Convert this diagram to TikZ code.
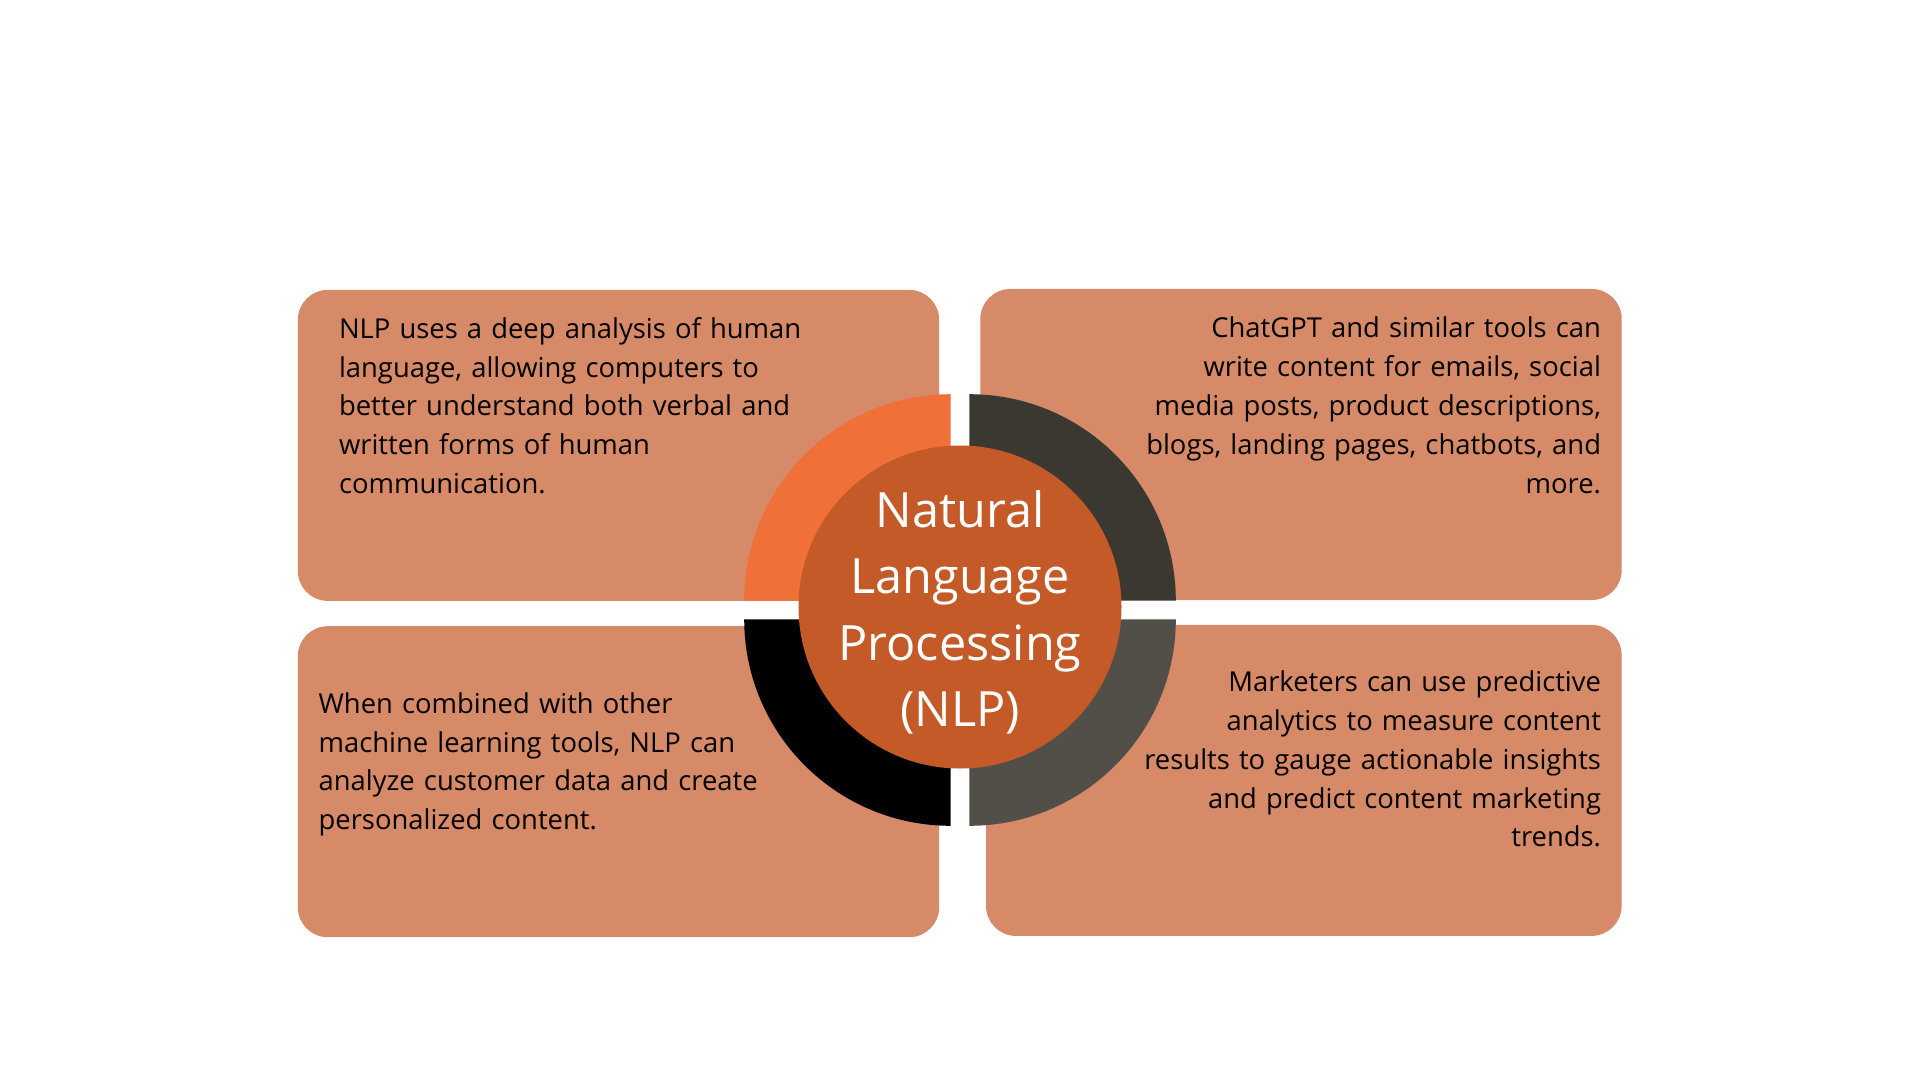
\documentclass[tikz,border=0pt]{standalone}
\usepackage{fontspec}
\setmainfont{Open Sans}
\usepackage{tikz}
\usetikzlibrary{positioning}

\definecolor{panelfill}{HTML}{D68A67}
\definecolor{hubfill}{HTML}{C35A27}
\definecolor{quadorange}{HTML}{F0703A}
\definecolor{quaddark}{HTML}{3B3832}
\definecolor{quadgrey}{HTML}{524F48}

\begin{document}
\begin{tikzpicture}[x=0.5pt,y=-0.5pt,
    panel/.style={rectangle,rounded corners=15pt,fill=panelfill,
      minimum width=320.7pt,minimum height=155.5pt,inner sep=0pt},
    blurb/.style={font=\fontsize{13.7pt}{19.4pt}\selectfont,text width=245pt,inner sep=0pt},
    hub/.style={circle,fill=hubfill,minimum size=161.5pt,inner sep=0pt}]
  \useasboundingbox (0,0) rectangle (1920,1080);

  % the four panels
  \node[panel] (p_nw) at (618.5,445.4) {};
  \node[panel] (p_ne) at (1301,444.5) {};
  \node[panel] (p_sw) at (618.5,781.7) {};
  \node[panel,minimum width=317.8pt] (p_se) at (1303.8,780.4) {};

  % ring quarters
  \coordinate (c_nw) at (950.7,600.7);
  \coordinate (c_ne) at (969.3,600.7);
  \coordinate (c_sw) at (950.7,619.3);
  \coordinate (c_se) at (969.3,619.3);
  \fill[quadorange] (c_nw) -- ++(-206.5,0) arc[start angle=180,end angle=270,radius=206.5] -- cycle;
  \fill[quaddark] (c_ne) -- ++(206.5,0) arc[start angle=0,end angle=-90,radius=206.5] -- cycle;
  \fill[black] (c_sw) -- ++(-206.5,0) arc[start angle=180,end angle=90,radius=206.5] -- cycle;
  \fill[quadgrey] (c_se) -- ++(206.5,0) arc[start angle=0,end angle=90,radius=206.5] -- cycle;

  \node[hub] (hub) at (960,607) {};
  \node[anchor=base,align=center,text=white,inner sep=0pt,text width=150pt,
    font=\fontsize{24.3pt}{33.25pt}\selectfont] (hub_txt) at (960,527.3)
    {Natural\\Language\\Processing\\(NLP)};

  % texts
  \node[blurb,anchor=base west,align=left] (t_nw) at (338.6,338.3)
    {NLP uses a deep analysis of human\\
     language, allowing computers to\\
     better understand both verbal and\\
     written forms of human\\
     communication.};
  \node[blurb,anchor=base east,align=right] (t_ne) at (1601.4,338)
    {ChatGPT and similar tools can\\
     write content for emails, social\\
     media posts, product descriptions,\\
     blogs, landing pages, chatbots, and\\
     more.};
  \node[blurb,anchor=base west,align=left] (t_sw) at (318.2,713.3)
    {When combined with other\\
     machine learning tools, NLP can\\
     analyze customer data and create\\
     personalized content.};
  \node[blurb,anchor=base east,align=right] (t_se) at (1601.4,691.7)
    {Marketers can use predictive\\
     analytics to measure content\\
     results to gauge actionable insights\\
     and predict content marketing\\
     trends.};
\end{tikzpicture}
\end{document}
